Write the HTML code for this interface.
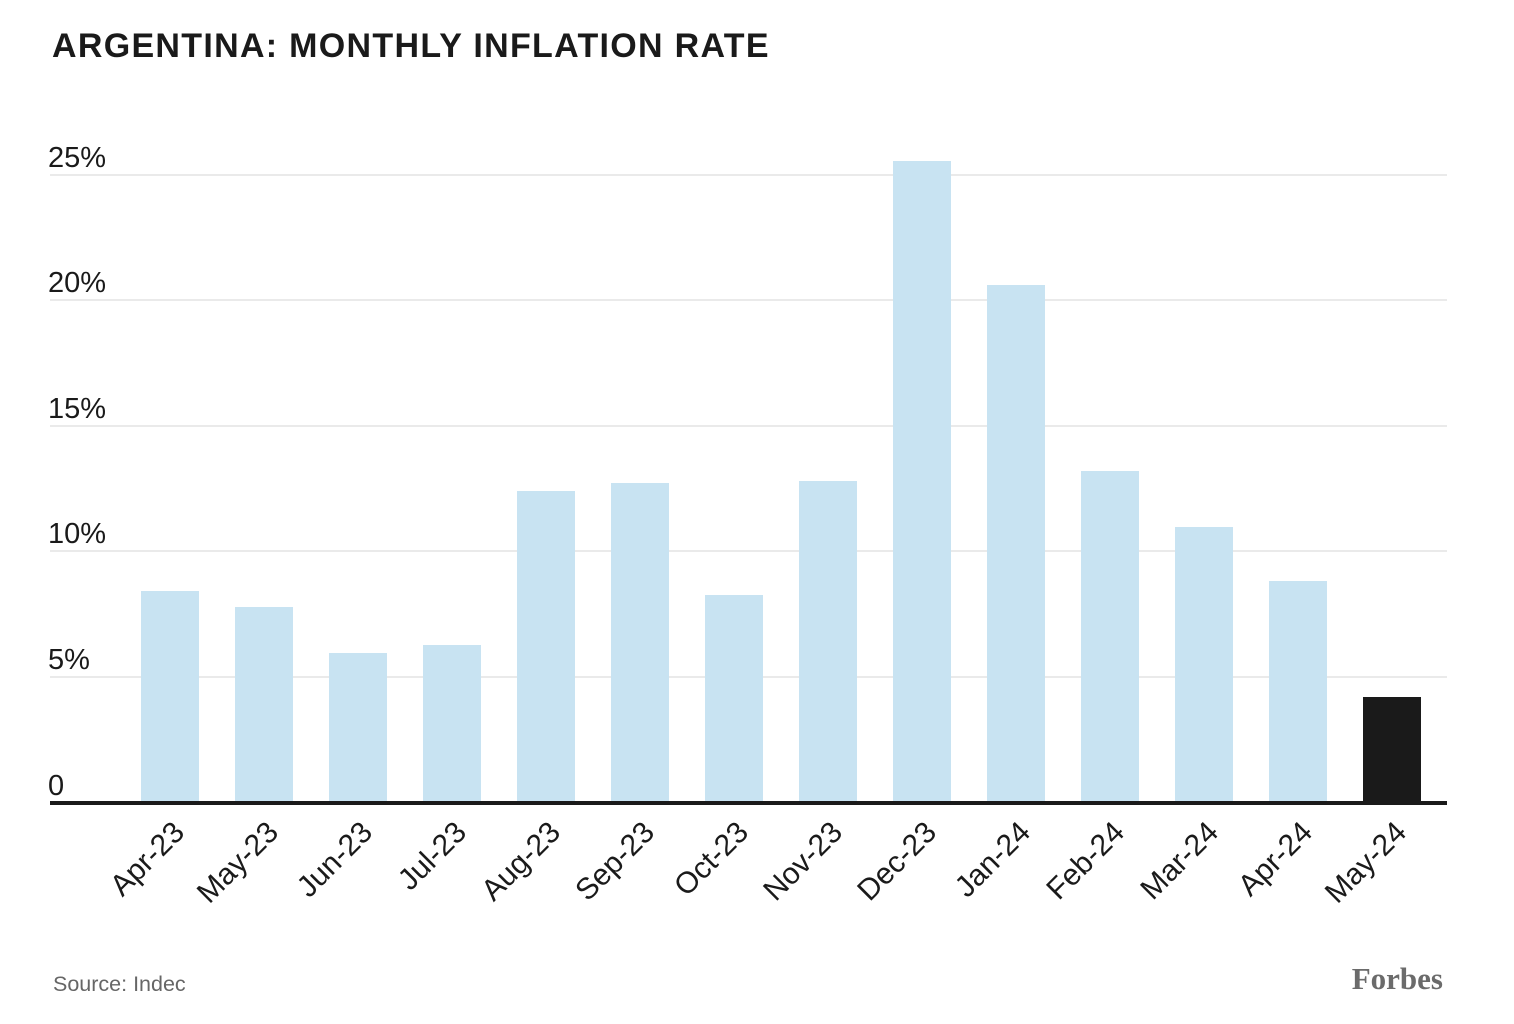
<!DOCTYPE html>
<html><head><meta charset="utf-8"><style>
html,body{margin:0;padding:0;background:#fff;}
</style></head><body>
<svg width="1514" height="1024" xmlns="http://www.w3.org/2000/svg" style="display:block">
<rect width="1514" height="1024" fill="#fff"/>
<text x="52" y="57" font-family="Liberation Sans, sans-serif" font-weight="bold" font-size="34" letter-spacing="1.3" fill="#1a1a1a">ARGENTINA: MONTHLY INFLATION RATE</text>
<g stroke="#e3e3e3" stroke-width="1.5">
<line x1="50" x2="1447" y1="175" y2="175"/>
<line x1="50" x2="1447" y1="300" y2="300"/>
<line x1="50" x2="1447" y1="426" y2="426"/>
<line x1="50" x2="1447" y1="551" y2="551"/>
<line x1="50" x2="1447" y1="677" y2="677"/>
</g>
<g font-family="Liberation Sans, sans-serif" font-size="29" fill="#1a1a1a">
<text x="48" y="167">25%</text>
<text x="48" y="292">20%</text>
<text x="48" y="418">15%</text>
<text x="48" y="543">10%</text>
<text x="48" y="669">5%</text>
<text x="48" y="795">0</text>
</g>
<g fill="#c8e3f2">
<rect x="141" y="591" width="58" height="212"/>
<rect x="235" y="607" width="58" height="196"/>
<rect x="329" y="653" width="58" height="150"/>
<rect x="423" y="645" width="58" height="158"/>
<rect x="517" y="491" width="58" height="312"/>
<rect x="611" y="483" width="58" height="320"/>
<rect x="705" y="595" width="58" height="208"/>
<rect x="799" y="481" width="58" height="322"/>
<rect x="893" y="161" width="58" height="642"/>
<rect x="987" y="285" width="58" height="518"/>
<rect x="1081" y="471" width="58" height="332"/>
<rect x="1175" y="527" width="58" height="276"/>
<rect x="1269" y="581" width="58" height="222"/>
</g>
<rect x="1363" y="697" width="58" height="106" fill="#1a1a1a"/>
<rect x="50" y="801" width="1397" height="4" fill="#1a1a1a"/>
<g font-family="Liberation Sans, sans-serif" font-size="30" fill="#1a1a1a" text-anchor="end">
<text transform="translate(186,834) rotate(-45)">Apr-23</text>
<text transform="translate(280,834) rotate(-45)">May-23</text>
<text transform="translate(374,834) rotate(-45)">Jun-23</text>
<text transform="translate(468,834) rotate(-45)">Jul-23</text>
<text transform="translate(562,834) rotate(-45)">Aug-23</text>
<text transform="translate(656,834) rotate(-45)">Sep-23</text>
<text transform="translate(750,834) rotate(-45)">Oct-23</text>
<text transform="translate(844,834) rotate(-45)">Nov-23</text>
<text transform="translate(938,834) rotate(-45)">Dec-23</text>
<text transform="translate(1032,834) rotate(-45)">Jan-24</text>
<text transform="translate(1126,834) rotate(-45)">Feb-24</text>
<text transform="translate(1220,834) rotate(-45)">Mar-24</text>
<text transform="translate(1314,834) rotate(-45)">Apr-24</text>
<text transform="translate(1408,834) rotate(-45)">May-24</text>
</g>
<text x="53" y="991" font-family="Liberation Sans, sans-serif" font-size="21.5" fill="#666">Source: Indec</text>
<text x="1443" y="989" text-anchor="end" font-family="Liberation Serif, serif" font-weight="bold" font-size="31" fill="#6b6b6b">Forbes</text>
</svg>
</body></html>
